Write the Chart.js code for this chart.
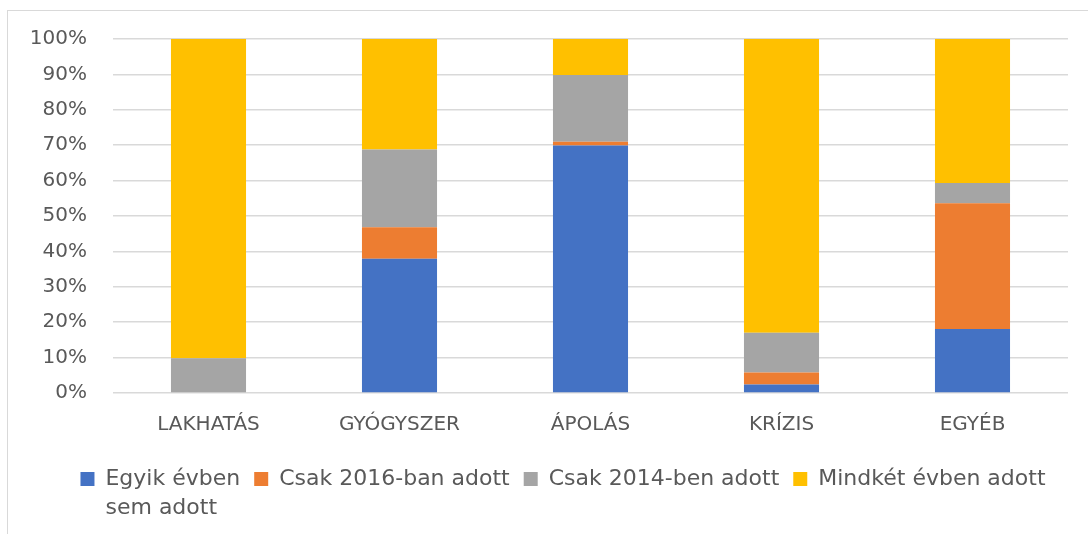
<!DOCTYPE html>
<html>
<head>
<meta charset="utf-8">
<script src="https://cdn.jsdelivr.net/npm/chart.js@4/dist/chart.umd.min.js"></script>
<style>
  html, body { margin: 0; padding: 0; background: #fff; }
  #wrap { position: relative; width: 1088px; height: 534px; overflow: hidden; }
  #frame { position: absolute; left: 7px; top: 10px; width: 1100px; height: 600px;
           border-left: 1.5px solid #d9d9d9; border-top: 1.5px solid #d9d9d9; }
  canvas { position: absolute; left: 0; top: 0; }
</style>
</head>
<body>
<div id="wrap">
  <div id="frame"></div>
  <canvas id="c" width="1088" height="534"></canvas>
</div>
<script>
const categories = ['LAKHATÁS', 'GYÓGYSZER', 'ÁPOLÁS', 'KRÍZIS', 'EGYÉB'];
const seriesNames = ['Egyik évben\nsem adott', 'Csak 2016-ban adott', 'Csak 2014-ben adott', 'Mindkét évben adott'];
const seriesColors = ['#4472C4', '#ED7D31', '#A5A5A5', '#FFC000'];
const egyikSem = [0, 37.9, 69.9, 2.4, 18.1];
const csak2016 = [0, 8.9, 1.1, 3.4, 35.5];
const csak2014 = [9.8, 22.0, 18.8, 11.2, 5.7];
const mindket  = [90.2, 31.2, 10.2, 83.0, 40.7];
const yTicks = [0, 10, 20, 30, 40, 50, 60, 70, 80, 90, 100];

const seriesValues = [egyikSem, csak2016, csak2014, mindket];
const FONT = "'DejaVu Sans', sans-serif";
const TXT = '#595959';
const LEGEND_SIZE = 22;

const secondLinePlugin = {
  id: 'secondLine',
  afterLayout(chart) {
    // shift the legend band so its rows centre like the reference
    if (chart.legend) chart.legend.left = 58;
  },
  afterDraw(chart) {
    const lg = chart.legend;
    if (!lg || !lg.legendHitBoxes) return;
    const ctx = chart.ctx;
    ctx.save();
    ctx.font = LEGEND_SIZE + 'px ' + FONT;
    ctx.fillStyle = TXT;
    ctx.textAlign = 'left';
    ctx.textBaseline = 'middle';
    lg.legendItems.forEach((item, i) => {
      const lines = seriesNames[item.datasetIndex].split('\n');
      const hb = lg.legendHitBoxes[i];
      for (let k = 1; k < lines.length; k++) {
        ctx.fillText(lines[k], hb.left + 14 + LEGEND_SIZE / 2, hb.top + hb.height / 2 + 29 * k);
      }
    });
    ctx.restore();
  }
};

new Chart(document.getElementById('c'), {
  type: 'bar',
  data: {
    labels: categories,
    datasets: seriesValues.map((vals, i) => ({
      label: seriesNames[i],
      data: vals,
      backgroundColor: seriesColors[i],
      borderWidth: 0,
      barPercentage: 0.393,
      categoryPercentage: 1.0
    }))
  },
  options: {
    responsive: false,
    animation: false,
    devicePixelRatio: 1,
    layout: { padding: { left: 20, right: 20, top: 39, bottom: 34 } },
    plugins: {
      title: { display: false },
      tooltip: { enabled: false },
      legend: {
        position: 'bottom',
        labels: {
          boxWidth: 14,
          boxHeight: 14,
          padding: 14,
          color: TXT,
          font: { family: FONT, size: LEGEND_SIZE },
          generateLabels(chart) {
            const items = Chart.defaults.plugins.legend.labels.generateLabels(chart);
            items.forEach(it => { it.text = seriesNames[it.datasetIndex].split('\n')[0]; it.lineWidth = 0; });
            return items;
          }
        }
      }
    },
    scales: {
      x: {
        stacked: true,
        grid: { display: false },
        border: { display: false },
        ticks: { color: TXT, font: { family: FONT, size: 20 }, padding: 12, maxRotation: 0 },
        afterFit(scale) { scale.height = 61; }
      },
      y: {
        stacked: true,
        min: 0,
        max: 100,
        afterBuildTicks(scale) { scale.ticks = yTicks.map(v => ({ value: v })); },
        grid: { color: '#d9d9d9', lineWidth: 1.5, drawTicks: false },
        border: { display: false },
        ticks: {
          color: TXT,
          font: { family: FONT, size: 20 },
          padding: 26,
          callback: v => v + '%'
        },
        afterFit(scale) { scale.width = 93; }
      }
    }
  },
  plugins: [secondLinePlugin]
});
</script>
</body>
</html>
